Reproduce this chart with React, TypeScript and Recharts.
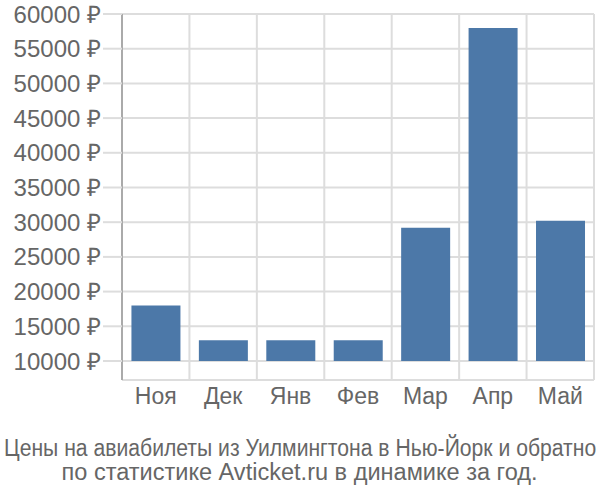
import React, { useLayoutEffect, useRef, useState } from 'react';
import { BarChart, Bar, XAxis, YAxis, CartesianGrid } from 'recharts';

const months = ['Ноя', 'Дек', 'Янв', 'Фев', 'Мар', 'Апр', 'Май'];
const prices = [18000, 13000, 13000, 13000, 29200, 58000, 30200];
const yTicks = [10000, 15000, 20000, 25000, 30000, 35000, 40000, 45000, 50000, 55000, 60000];
const BASE = 10000;
const titleLines = [
  'Цены на авиабилеты из Уилмингтона в Нью-Йорк и обратно',
  'по статистике Avticket.ru в динамике за год.',
];

const data = months.map((m, i) => ({ month: m, price: prices[i] }));

const FONT = '"Liberation Sans", Arial, sans-serif';

function FitLine({ text, top, width }: { text: string; top: number; width: number }) {
  const ref = useRef<HTMLSpanElement>(null);
  const [sx, setSx] = useState(1);
  useLayoutEffect(() => {
    if (ref.current) {
      const w = ref.current.offsetWidth;
      if (w > 0) setSx(width / w);
    }
  }, [text, width]);
  return (
    <div
      style={{
        position: 'absolute',
        left: 0,
        top,
        width: 600,
        display: 'flex',
        justifyContent: 'center',
        overflow: 'visible',
      }}
    >
      <span
        ref={ref}
        style={{
          display: 'inline-block',
          whiteSpace: 'nowrap',
          fontFamily: FONT,
          fontSize: 23,
          lineHeight: '26px',
          color: '#666666',
          transform: `scaleX(${sx})`,
          transformOrigin: 'center',
          flexShrink: 0,
        }}
      >
        {text}
      </span>
    </div>
  );
}

export default function App() {
  return (
    <div style={{ position: 'absolute', left: 0, top: 0, width: 600, height: 500, background: '#fff', overflow: 'hidden' }}>
      <BarChart
        width={600}
        height={420}
        data={data}
        margin={{ top: 14, right: 6, bottom: 0, left: 0 }}
        barCategoryGap="14%"
      >
        <CartesianGrid
          stroke="#dddddd"
          strokeWidth={2}
          verticalCoordinatesGenerator={({ offset }: any) =>
            Array.from({ length: months.length + 1 }, (_, i) => offset.left + (i * offset.width) / months.length)
          }
        />
        <XAxis
          dataKey="month"
          axisLine={false}
          tickLine={false}
          height={40}
          tick={{ fill: '#666666', fontSize: 23, fontFamily: FONT }}
        />
        <YAxis
          width={122}
          domain={[7260, 60000]}
          ticks={yTicks}
          interval={0}
          allowDataOverflow
          tickFormatter={(v: number) => `${v} ₽`}
          axisLine={{ stroke: '#aaaaaa', strokeWidth: 2 }}
          tickLine={{ stroke: '#dddddd', strokeWidth: 2 }}
          tickSize={19}
          tickMargin={2}
          tick={{ fill: '#666666', fontSize: 24, fontFamily: FONT }}
        />
        <Bar
          dataKey={(d: any) => [BASE, d.price]}
          fill="#4c78a8"
          isAnimationActive={false}
        />
      </BarChart>
      <FitLine text={titleLines[0]} top={435} width={592} />
      <FitLine text={titleLines[1]} top={459} width={476} />
    </div>
  );
}
